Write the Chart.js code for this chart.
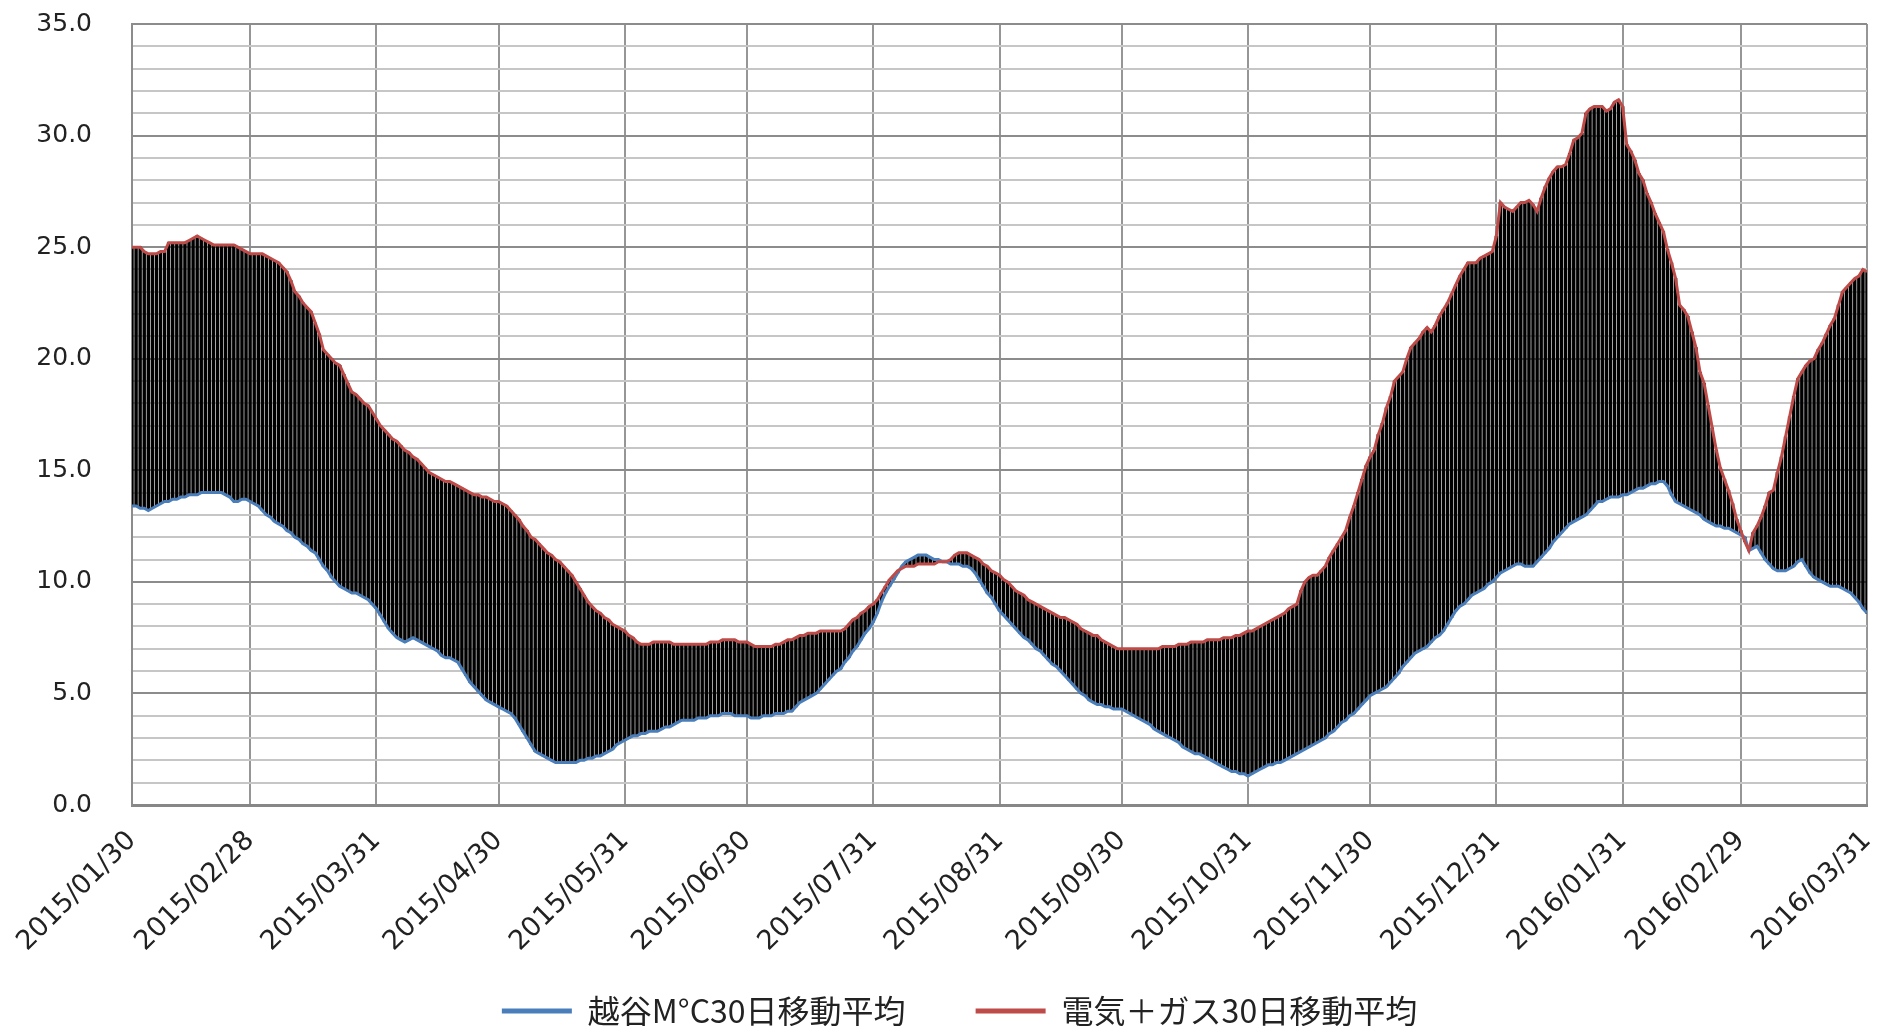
<!DOCTYPE html>
<html><head><meta charset="utf-8">
<script src="https://cdn.jsdelivr.net/npm/chart.js@4/dist/chart.umd.min.js"></script>
<style>html,body{margin:0;padding:0;background:#fff;}</style>
</head><body>
<canvas id="c" width="1880" height="1026"></canvas>
<script>
// x tick labels (month ends) and their day offsets from 2015/01/30
const tickLabels = ["2015/01/30","2015/02/28","2015/03/31","2015/04/30","2015/05/31","2015/06/30","2015/07/31","2015/08/31","2015/09/30","2015/10/31","2015/11/30","2015/12/31","2016/01/31","2016/02/29","2016/03/31"];
const tickDays = [0,29,60,90,121,151,182,213,243,274,304,335,366,395,426];
const seriesNames = ["越谷M°C30日移動平均", "電気＋ガス30日移動平均"];

// 越谷 temperature 30-day moving average (blue), one value per day 2015/01/30 .. 2016/03/31
const tempAvg = [
13.4,13.4,13.3,13.3,13.2,13.3,13.4,13.5,13.6,13.6,
13.7,13.7,13.8,13.8,13.9,13.9,13.9,14.0,14.0,14.0,
14.0,14.0,14.0,13.9,13.8,13.6,13.6,13.7,13.7,13.6,
13.5,13.4,13.2,13.0,12.9,12.7,12.6,12.5,12.3,12.2,
12.0,11.9,11.7,11.6,11.4,11.3,11.0,10.7,10.5,10.2,
10.0,9.8,9.7,9.6,9.5,9.5,9.4,9.3,9.2,9.0,
8.8,8.5,8.2,7.9,7.7,7.5,7.4,7.3,7.4,7.5,
7.4,7.3,7.2,7.1,7.0,6.9,6.7,6.6,6.6,6.5,
6.4,6.1,5.8,5.5,5.3,5.1,4.9,4.7,4.6,4.5,
4.4,4.3,4.2,4.1,3.9,3.6,3.3,3.0,2.7,2.4,
2.3,2.2,2.1,2.0,1.9,1.9,1.9,1.9,1.9,1.9,
2.0,2.0,2.1,2.1,2.2,2.2,2.3,2.4,2.5,2.7,
2.8,2.9,3.0,3.1,3.1,3.2,3.2,3.3,3.3,3.3,
3.4,3.5,3.5,3.6,3.7,3.8,3.8,3.8,3.8,3.9,
3.9,3.9,4.0,4.0,4.0,4.1,4.1,4.1,4.0,4.0,
4.0,4.0,3.9,3.9,3.9,4.0,4.0,4.0,4.1,4.1,
4.1,4.2,4.2,4.4,4.6,4.7,4.8,4.9,5.0,5.2,
5.4,5.6,5.8,6.0,6.1,6.4,6.6,6.9,7.1,7.4,
7.7,7.9,8.2,8.6,9.1,9.5,9.8,10.1,10.4,10.7,
10.9,11.0,11.1,11.2,11.2,11.2,11.1,11.0,11.0,10.9,
10.9,10.8,10.8,10.8,10.7,10.7,10.6,10.4,10.1,9.8,
9.5,9.3,9.0,8.7,8.5,8.3,8.1,7.9,7.7,7.5,
7.4,7.2,7.0,6.9,6.7,6.5,6.3,6.2,6.0,5.8,
5.6,5.4,5.2,5.0,4.9,4.7,4.6,4.5,4.5,4.4,
4.4,4.3,4.3,4.3,4.2,4.1,4.0,3.9,3.8,3.7,
3.6,3.4,3.3,3.2,3.1,3.0,2.9,2.8,2.6,2.5,
2.4,2.3,2.3,2.2,2.1,2.0,1.9,1.8,1.7,1.6,
1.5,1.5,1.4,1.4,1.3,1.4,1.5,1.6,1.7,1.8,
1.8,1.9,1.9,2.0,2.1,2.2,2.3,2.4,2.5,2.6,
2.7,2.8,2.9,3.0,3.2,3.3,3.5,3.7,3.8,4.0,
4.1,4.3,4.5,4.7,4.9,5.0,5.1,5.2,5.3,5.5,
5.7,5.9,6.2,6.4,6.6,6.8,6.9,7.0,7.1,7.3,
7.5,7.6,7.8,8.1,8.4,8.7,8.9,9.0,9.2,9.4,
9.5,9.6,9.7,9.9,10.0,10.2,10.4,10.5,10.6,10.7,
10.8,10.8,10.7,10.7,10.7,10.9,11.1,11.3,11.5,11.8,
12.0,12.2,12.4,12.6,12.7,12.8,12.9,13.0,13.2,13.4,
13.6,13.6,13.7,13.8,13.8,13.8,13.9,13.9,14.0,14.1,
14.2,14.2,14.3,14.4,14.4,14.5,14.5,14.3,13.9,13.6,
13.5,13.4,13.3,13.2,13.1,13.0,12.8,12.7,12.6,12.5,
12.5,12.4,12.4,12.3,12.2,12.1,12.0,11.4,11.5,11.6,
11.3,11.0,10.8,10.6,10.5,10.5,10.5,10.6,10.7,10.9,
11.0,10.7,10.4,10.2,10.1,10.0,9.9,9.8,9.8,9.8,
9.7,9.6,9.5,9.3,9.1,8.8,8.6
];

// electricity + gas 30-day moving average (red), one value per day
const energyAvg = [
25.0,25.0,25.0,24.8,24.7,24.7,24.7,24.8,24.8,25.2,
25.2,25.2,25.2,25.2,25.3,25.4,25.5,25.4,25.3,25.2,
25.1,25.1,25.1,25.1,25.1,25.1,25.0,24.9,24.8,24.7,
24.7,24.7,24.7,24.6,24.5,24.4,24.3,24.1,23.9,23.5,
23.0,22.8,22.5,22.3,22.1,21.6,21.1,20.4,20.2,20.0,
19.8,19.7,19.3,18.9,18.5,18.4,18.2,18.0,17.9,17.6,
17.3,17.0,16.8,16.6,16.4,16.3,16.1,15.9,15.8,15.6,
15.5,15.3,15.1,14.9,14.8,14.7,14.6,14.5,14.5,14.4,
14.3,14.2,14.1,14.0,13.9,13.9,13.8,13.8,13.7,13.6,
13.6,13.5,13.4,13.2,13.0,12.8,12.5,12.3,12.0,11.9,
11.7,11.5,11.3,11.2,11.0,10.9,10.7,10.5,10.3,10.0,
9.7,9.4,9.1,8.9,8.7,8.6,8.4,8.3,8.1,8.0,
7.9,7.8,7.6,7.5,7.3,7.2,7.2,7.2,7.3,7.3,
7.3,7.3,7.3,7.2,7.2,7.2,7.2,7.2,7.2,7.2,
7.2,7.2,7.3,7.3,7.3,7.4,7.4,7.4,7.4,7.3,
7.3,7.3,7.2,7.1,7.1,7.1,7.1,7.1,7.2,7.2,
7.3,7.4,7.4,7.5,7.6,7.6,7.7,7.7,7.7,7.8,
7.8,7.8,7.8,7.8,7.8,7.9,8.1,8.3,8.4,8.6,
8.7,8.9,9.0,9.2,9.5,9.8,10.1,10.3,10.5,10.6,
10.7,10.7,10.7,10.8,10.8,10.8,10.8,10.8,10.9,10.9,
10.9,11.0,11.2,11.3,11.3,11.3,11.2,11.1,11.0,10.8,
10.7,10.5,10.4,10.3,10.1,10.0,9.8,9.6,9.5,9.4,
9.2,9.1,9.0,8.9,8.8,8.7,8.6,8.5,8.4,8.4,
8.3,8.2,8.1,7.9,7.8,7.7,7.6,7.6,7.4,7.3,
7.2,7.1,7.0,7.0,7.0,7.0,7.0,7.0,7.0,7.0,
7.0,7.0,7.0,7.1,7.1,7.1,7.1,7.2,7.2,7.2,
7.3,7.3,7.3,7.3,7.4,7.4,7.4,7.4,7.5,7.5,
7.5,7.6,7.6,7.7,7.8,7.8,7.9,8.0,8.1,8.2,
8.3,8.4,8.5,8.6,8.8,8.9,9.0,9.6,10.0,10.2,
10.3,10.3,10.5,10.7,11.1,11.4,11.7,12.0,12.3,12.9,
13.4,14.0,14.6,15.2,15.6,15.9,16.6,17.1,17.8,18.3,
19.0,19.2,19.4,20.0,20.5,20.7,20.9,21.2,21.4,21.2,
21.5,21.9,22.2,22.5,22.9,23.3,23.7,24.0,24.3,24.3,
24.3,24.5,24.6,24.7,24.8,25.5,27.0,26.8,26.7,26.6,
26.8,27.0,27.0,27.1,26.9,26.6,27.2,27.7,28.1,28.4,
28.6,28.6,28.7,29.2,29.8,29.9,30.1,31.0,31.2,31.3,
31.3,31.3,31.1,31.2,31.5,31.6,31.3,29.6,29.3,28.9,
28.3,28.0,27.4,27.0,26.5,26.1,25.7,24.9,24.3,23.6,
22.4,22.2,21.9,21.2,20.5,19.4,18.9,17.9,16.9,15.9,
15.1,14.6,14.1,13.5,12.8,12.3,11.8,11.4,12.2,12.5,
12.9,13.4,14.0,14.1,14.9,15.6,16.5,17.4,18.3,19.1,
19.4,19.7,19.9,20.0,20.4,20.7,21.1,21.5,21.8,22.4,
23.0,23.2,23.4,23.6,23.7,24.0,23.9
];

const blueColor = '#4a7ebb';
const redColor = '#be4b48';

const tempPts = tempAvg.map((v, i) => ({x: i, y: v}));
const energyPts = energyAvg.map((v, i) => ({x: i, y: v}));
const hiLoPts = tempAvg.map((v, i) => ({x: i, y: [v, energyAvg[i]]}));

// let tick labels draw outside the narrow axis boxes instead of being clipped
const unclipLabels = {
  id: 'unclipLabels',
  afterLayout(chart) {
    chart.scales.x.bottom = chart.height;
    chart.scales.y.left = 0;
  }
};

new Chart(document.getElementById('c'), {
  type: 'bar',
  data: {
    datasets: [
      {type: 'line', label: seriesNames[0], data: tempPts, borderColor: blueColor, backgroundColor: blueColor,
       borderWidth: 3, pointRadius: 0, tension: 0, order: 1},
      {type: 'line', label: seriesNames[1], data: energyPts, borderColor: redColor, backgroundColor: redColor,
       borderWidth: 3, pointRadius: 0, tension: 0, order: 0},
      {type: 'bar', label: 'hilo', data: hiLoPts, backgroundColor: '#000', borderWidth: 0,
       barThickness: 2.8, order: 5}
    ]
  },
  plugins: [unclipLabels],
  options: {
    responsive: false,
    animation: false,
    devicePixelRatio: 1,
    layout: {padding: {top: 24, right: 13, bottom: -11, left: 52}},
    plugins: {
      tooltip: {enabled: false},
      legend: {
        position: 'bottom',
        labels: {
          font: {family: "'Noto Sans CJK JP', sans-serif", size: 32},
          color: '#222',
          boxWidth: 70, boxHeight: 5, padding: 70,
          filter: item => item.datasetIndex < 2,
          sort: (a, b) => a.datasetIndex - b.datasetIndex,
          generateLabels: chart => Chart.defaults.plugins.legend.labels.generateLabels(chart)
            .map(l => Object.assign(l, {lineWidth: 0}))
        }
      }
    },
    scales: {
      x: {
        type: 'linear', min: 0, max: 426, offset: false,
        afterBuildTicks: axis => { axis.ticks = tickDays.map(v => ({value: v})); },
        afterFit: s => { s.height = 120; s.paddingLeft = 0; s.paddingRight = 0; },
        ticks: {autoSkip: false, minRotation: 45, maxRotation: 45, padding: 20,
                font: {family: "'DejaVu Sans', sans-serif", size: 27}, color: '#222',
                callback: (v, i) => tickLabels[i]},
        grid: {color: '#969696', lineWidth: 2, drawTicks: false, offset: false},
        border: {color: '#878787', width: 3}
      },
      y: {
        min: 0, max: 35,
        afterFit: s => { s.width = 80; s.paddingTop = 0; s.paddingBottom = 0; },
        ticks: {stepSize: 1, autoSkip: false, padding: 40,
                font: {family: "'DejaVu Sans', sans-serif", size: 25}, color: '#222',
                callback: v => (v % 5 === 0 ? v.toFixed(1) : '')},
        grid: {color: c => (c.tick && c.tick.value % 5 === 0 ? '#8c8c8c' : '#c6c6c6'), lineWidth: 2, drawTicks: false},
        border: {color: '#8c8c8c', width: 2}
      }
    }
  }
});
</script>
</body></html>
